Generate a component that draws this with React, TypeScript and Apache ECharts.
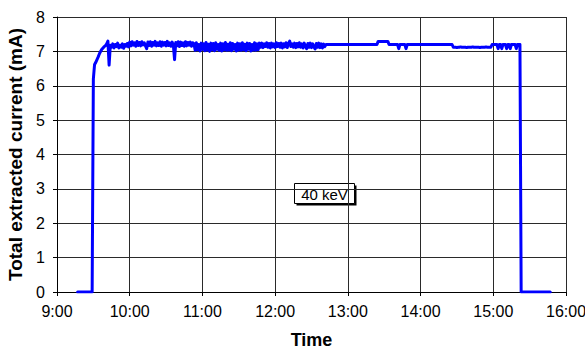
import React, { useEffect, useRef } from "react";
import * as echarts from "echarts";

// Ion source extracted current, logged once per minute (mA).
// Each log starts at the given clock time.
const MORNING_START = "9:17";
const morningLog = [
  // 9:17 - 9:29 beam off
  0, 0, 0, 0, 0, 0, 0, 0, 0, 0, 0, 0, 0,
  // 9:30 - 9:44 ramp up
  6.2, 6.62, 6.68, 6.76, 6.84, 6.93, 7.0, 7.06, 7.1, 7.14, 7.17, 7.22, 7.3, 6.6, 7.18,
  // 9:45 - 9:59
  7.12, 7.22, 7.1, 7.2, 7.14, 7.24, 7.1, 7.18, 7.12, 7.22, 7.09, 7.2, 7.15, 7.23, 7.13,
  // 10:00 - 10:13
  7.27, 7.16, 7.28, 7.18, 7.25, 7.15, 7.29, 7.17, 7.26, 7.16, 7.28, 7.19, 7.25, 7.16,
  // 10:14
  7.08,
  // 10:15 - 10:36
  7.27, 7.17, 7.28, 7.15, 7.26, 7.18, 7.29, 7.16, 7.25, 7.17,
  7.28, 7.15, 7.27, 7.18, 7.26, 7.16, 7.29, 7.17, 7.25, 7.15,
  7.27, 7.18,
  // 10:37
  6.76,
  // 10:38 - 10:52
  7.26, 7.16, 7.28, 7.14, 7.27, 7.17, 7.25, 7.15, 7.28, 7.16, 7.26, 7.18, 7.27, 7.15, 7.25,
];

const MIDDAY_START = "10:53";
const middayLog = [
  // 10:53 - 11:47
  7.23, 7.03, 7.25, 7.05, 7.2, 7.01, 7.24, 7.06, 7.22, 7.02,
  7.26, 7.04, 7.21, 7.0, 7.24, 7.05, 7.23, 7.02, 7.25, 7.06,
  7.2, 7.03, 7.24, 7.01, 7.22, 7.05, 7.26, 7.03, 7.21, 7.04,
  7.25, 7.02, 7.23, 7.06, 7.2, 7.01, 7.24, 7.04, 7.22, 7.03,
  7.25, 7.05, 7.21, 7.02, 7.24, 7.06, 7.23, 7.01, 7.2, 7.04,
  7.25, 7.03, 7.22, 7.05, 7.24,
  // 11:48 - 12:36
  7.12, 7.24, 7.11, 7.22, 7.14, 7.25, 7.12, 7.23, 7.1, 7.24,
  7.13, 7.22, 7.11, 7.25, 7.14, 7.23, 7.12, 7.24, 7.1, 7.22,
  7.13, 7.25, 7.11, 7.23, 7.3, 7.14, 7.22, 7.12, 7.24, 7.11,
  7.23, 7.13, 7.25, 7.12, 7.22, 7.1, 7.24, 7.14, 7.08, 7.23,
  7.12, 7.24, 7.11, 7.22, 7.13, 7.07, 7.23, 7.12, 7.24,
  // 12:37 - 12:41
  7.11, 7.22, 7.1, 7.21, 7.14,
];

const AFTERNOON_START = "12:42";
const afternoonLog = [
  // 12:42 - 13:24
  7.2, 7.2, 7.2, 7.2, 7.2, 7.2, 7.2, 7.2, 7.2, 7.2,
  7.2, 7.2, 7.2, 7.2, 7.2, 7.2, 7.2, 7.2, 7.2, 7.2,
  7.2, 7.2, 7.2, 7.2, 7.2, 7.2, 7.2, 7.2, 7.2, 7.2,
  7.2, 7.2, 7.2, 7.2, 7.2, 7.2, 7.2, 7.2, 7.2, 7.2,
  7.2, 7.2, 7.2,
  // 13:25 - 13:33
  7.29, 7.29, 7.29, 7.29, 7.29, 7.29, 7.29, 7.29, 7.29,
  // 13:34 - 13:41
  7.2, 7.2, 7.2, 7.2, 7.2, 7.2, 7.2, 7.2,
  // 13:42
  7.08,
  // 13:43 - 13:47
  7.2, 7.2, 7.2, 7.2, 7.2,
  // 13:48
  7.08,
  // 13:49 - 14:26
  7.2, 7.2, 7.2, 7.2, 7.2, 7.2, 7.2, 7.2, 7.2, 7.2,
  7.2, 7.2, 7.2, 7.2, 7.2, 7.2, 7.2, 7.2, 7.2, 7.2,
  7.2, 7.2, 7.2, 7.2, 7.2, 7.2, 7.2, 7.2, 7.2, 7.2,
  7.2, 7.2, 7.2, 7.2, 7.2, 7.2, 7.2, 7.2,
  // 14:27 - 14:58
  7.12, 7.12, 7.12, 7.11, 7.12, 7.12, 7.13, 7.12, 7.12, 7.12,
  7.12, 7.11, 7.12, 7.12, 7.12, 7.12, 7.13, 7.12, 7.12, 7.12,
  7.12, 7.12, 7.11, 7.12, 7.12, 7.12, 7.12, 7.13, 7.12, 7.12,
  7.12, 7.12,
  // 14:59 - 15:22
  7.2, 7.2, 7.2, 7.2, 7.2, 7.08, 7.2, 7.2, 7.08, 7.2,
  7.2, 7.2, 7.08, 7.2, 7.2, 7.08, 7.2, 7.2, 7.2, 7.2,
  7.08, 7.2, 7.2, 7.2,
  // 15:23 - 15:47 beam off
  0, 0, 0, 0, 0, 0, 0, 0, 0, 0,
  0, 0, 0, 0, 0, 0, 0, 0, 0, 0,
  0, 0, 0, 0, 0,
];

const X_MIN_HOUR = 9;
const X_MAX_HOUR = 16;
const Y_MAX_MA = 8;
const BEAM_ENERGY_LABEL = "40 keV";
const X_AXIS_TITLE = "Time";
const Y_AXIS_TITLE = "Total extracted current (mA)";

const FONT = "'Liberation Sans', Arial, Helvetica, sans-serif";

function toHours(clock: string): number {
  const [h, m] = clock.split(":").map(Number);
  return h + m / 60;
}

function toPoints(start: string, log: number[]): number[][] {
  const t0 = toHours(start);
  return log.map((v, i) => [t0 + i / 60, v]);
}

export default function App() {
  const ref = useRef<HTMLDivElement>(null);

  useEffect(() => {
    if (!ref.current) return;
    const chart = echarts.init(ref.current, undefined, { renderer: "svg" });

    const points = [
      ...toPoints(MORNING_START, morningLog),
      ...toPoints(MIDDAY_START, middayLog),
      ...toPoints(AFTERNOON_START, afternoonLog),
    ];

    const gridColor = "#2a2a2a";

    chart.setOption({
      animation: false,
      backgroundColor: "#ffffff",
      grid: {
        left: 57,
        top: 17,
        right: 19,
        bottom: 60,
        containLabel: false,
        outerBoundsMode: "none",
      },
      xAxis: {
        type: "value",
        min: X_MIN_HOUR,
        max: X_MAX_HOUR,
        interval: 1,
        name: X_AXIS_TITLE,
        nameLocation: "middle",
        nameGap: 39,
        nameTextStyle: { fontFamily: FONT, fontSize: 18, fontWeight: "bold", color: "#000" },
        axisLine: { show: true, lineStyle: { color: "#000", width: 1 } },
        axisTick: { show: true, length: 4, lineStyle: { color: "#000" } },
        axisLabel: {
          fontFamily: FONT,
          fontSize: 16,
          color: "#000",
          margin: 11,
          hideOverlap: false,
          formatter: (v: number) => `${v}:00`,
        },
        splitLine: { show: true, lineStyle: { color: gridColor, width: 1 } },
      },
      yAxis: {
        type: "value",
        min: 0,
        max: Y_MAX_MA,
        interval: 1,
        name: Y_AXIS_TITLE,
        nameLocation: "middle",
        nameGap: 27,
        nameTextStyle: { fontFamily: FONT, fontSize: 19, fontWeight: "bold", color: "#000" },
        axisLine: { show: true, lineStyle: { color: "#000", width: 1 } },
        axisTick: { show: true, length: 4, lineStyle: { color: "#000" } },
        axisLabel: { fontFamily: FONT, fontSize: 16, color: "#000", margin: 12 },
        splitLine: { show: true, lineStyle: { color: gridColor, width: 1 } },
      },
      graphic: [
        {
          type: "group",
          left: 294,
          top: 183,
          children: [
            { type: "rect", shape: { x: 2, y: 2, width: 60, height: 20 }, style: { fill: "#000" } },
            {
              type: "rect",
              shape: { x: 0, y: 0, width: 60, height: 20 },
              style: { fill: "#fff", stroke: "#000", lineWidth: 1 },
            },
            {
              type: "text",
              x: 30,
              y: 10.5,
              style: {
                text: BEAM_ENERGY_LABEL,
                fontFamily: FONT,
                fontSize: 15,
                fill: "#000",
                align: "center",
                verticalAlign: "middle",
              },
            },
          ],
        },
      ],
      series: [
        {
          type: "line",
          data: points,
          showSymbol: false,
          symbol: "none",
          lineStyle: { color: "#0000ff", width: 3, join: "round", cap: "round" },
          z: 3,
        },
      ],
    });

    return () => chart.dispose();
  }, []);

  return (
    <div
      ref={ref}
      style={{ position: "absolute", left: 0, top: 0, width: 585, height: 352 }}
    />
  );
}
